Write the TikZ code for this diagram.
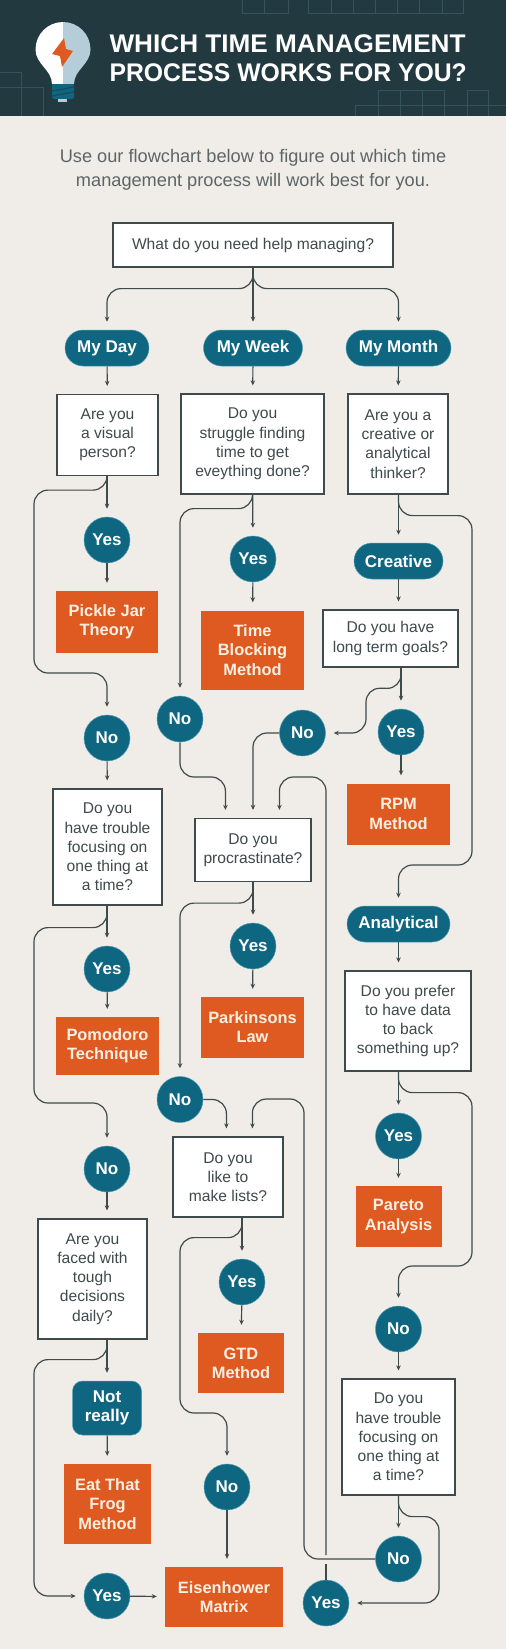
\documentclass[tikz,border=0pt]{standalone}
\usepackage{fontspec}
\setmainfont{Liberation Sans}
\usetikzlibrary{positioning,arrows.meta}

\definecolor{paper}{HTML}{F0EDE8}
\definecolor{banner}{HTML}{22393F}
\definecolor{bannerline}{HTML}{35525A}
\definecolor{ink}{HTML}{3F4A4C}
\definecolor{teal}{HTML}{0F6680}
\definecolor{tealedge}{HTML}{4F9DB3}
\definecolor{rust}{HTML}{DE5A21}
\definecolor{cream}{HTML}{FDF0E2}
\definecolor{bulbshade}{HTML}{B5CDD8}

\begin{document}
\begin{tikzpicture}[
    x=1pt,
    y=-1pt,
    >={Stealth[length=5pt,width=4.5pt]},
    flow/.style={->,draw=ink,line width=1.2pt,rounded corners=14pt,shorten >=8pt},
    plainflow/.style={draw=ink,line width=1.2pt}
]

\tikzstyle{question}=[
    rectangle,
    draw=ink,
    fill=white,
    line width=1.2pt,
    inner sep=0pt,
    align=center,
    text=ink,
    font=\fontsize{15.6}{19.2}\selectfont
]
\tikzstyle{pill}=[
    rectangle,
    draw=tealedge,
    fill=teal,
    line width=.5pt,
    rounded corners=18pt,
    minimum height=36pt,
    inner sep=0pt,
    align=center,
    text=white,
    font=\fontsize{17}{19.2}\selectfont\bfseries
]
\tikzstyle{answer}=[
    circle,
    draw=tealedge,
    fill=teal,
    line width=.5pt,
    minimum size=46pt,
    inner sep=0pt,
    text=white,
    font=\fontsize{17}{19.2}\selectfont\bfseries
]
\tikzstyle{method}=[
    rectangle,
    fill=rust,
    inner sep=0pt,
    align=center,
    text=cream,
    font=\fontsize{16.4}{19.2}\selectfont\bfseries
]

\useasboundingbox (0,0) rectangle (506,1649);
\fill[paper] (0,0) rectangle (506,1649);
\fill[banner] (0,0) rectangle (506,116);

% banner grid
\draw[bannerline,line width=.8pt]
    (242,0) -- (242,13) -- (288,13) -- (288,0) (264,0) -- (264,13)
    (308,0) -- (308,13) -- (463,13) -- (463,0)
    (331,0) -- (331,13) (353,0) -- (353,13) (375,0) -- (375,13)
    (397,0) -- (397,13) (419,0) -- (419,13) (442,0) -- (442,13)
    (355,116) -- (355,105) -- (506,105)
    (378,116) -- (378,90) -- (444,90) -- (444,116)
    (400,90) -- (400,116) (422,90) -- (422,116)
    (467,116) -- (467,90) -- (488,90) -- (488,116)
    (0,72) -- (21,72) -- (21,116)
    (0,87) -- (43,87) -- (43,116);

% bulb
\fill[white] (63,22) .. controls (47.8,22) and (35.5,34.3) .. (35.5,49.5)
    .. controls (35.5,64) and (52,70) .. (52,84) -- (63,84) -- cycle;
\fill[bulbshade] (63,22) .. controls (78.2,22) and (90.5,34.3) .. (90.5,49.5)
    .. controls (90.5,64) and (74,70) .. (74,84) -- (63,84) -- cycle;
\fill[teal,rounded corners=2pt] (52,84) rectangle (74,99);
\draw[banner!60!teal,line width=1.2pt] (52,91) -- (74,87) (52,96) -- (74,92);
\fill[bulbshade] (58,99) rectangle (67,102);
\fill[rust] (64,38) -- (52,54) -- (60,56) -- (62,67) -- (73,51) -- (66,49) -- cycle;

\node[anchor=west,align=left,text=white,font=\fontsize{25.5}{28.5}\selectfont\bfseries] (title) at (106,58)
    {\scalebox{1.026}[1]{WHICH TIME MANAGEMENT}\\\scalebox{.97}[1]{PROCESS WORKS FOR YOU?}};
\node[align=center,text=ink!85,font=\fontsize{18.2}{24}\selectfont] (intro) at (253,170)
    {Use our flowchart below to figure out which time\\management process will work best for you.};

% first row
\node[question,minimum width=280pt,minimum height=44pt] (root) at (253,245) {What do you need help managing?};
\node[pill,minimum width=84pt] (day) at (107,348) {My Day};
\node[pill,minimum width=99pt] (week) at (253,348) {My Week};
\node[pill,minimum width=105pt] (month) at (398.5,348) {My Month};

% left column
\node[question,minimum width=101pt,minimum height=81pt] (visual) at (107.5,435) {Are you\\a visual\\person?};
\node[answer] (yesvisual) at (107,540) {Yes};
\node[method,minimum width=102pt,minimum height=62pt] (pickle) at (107,622) {Pickle Jar\\Theory};
\node[answer] (novisual) at (107,738) {No};
\node[question,minimum width=109pt,minimum height=116pt] (focus) at (107.5,847) {Do you\\have trouble\\focusing on\\one thing at\\a time?};
\node[answer] (yesfocus) at (107,969) {Yes};
\node[method,minimum width=103pt,minimum height=58pt] (pomodoro) at (107.5,1046) {Pomodoro\\Technique};
\node[answer] (nofocus) at (107,1169) {No};
\node[question,minimum width=109pt,minimum height=120pt] (faced) at (92.5,1279) {Are you\\faced with\\tough\\decisions\\daily?};
\node[pill,rounded corners=10pt,minimum width=69pt,minimum height=54pt] (notreally) at (107,1408) {Not\\really};
\node[method,minimum width=87pt,minimum height=80pt] (frog) at (107.5,1504) {Eat That\\Frog\\Method};
\node[answer] (yesfaced) at (107,1596) {Yes};
\node[method,minimum width=118pt,minimum height=60pt] (eisenhower) at (224,1597) {Eisenhower\\Matrix};

% middle column
\node[question,minimum width=143pt,minimum height=100pt] (struggle) at (252.5,444) {Do you\\struggle finding\\time to get\\eveything done?};
\node[answer] (yesstruggle) at (253,559) {Yes};
\node[method,minimum width=103pt,minimum height=79pt] (blocking) at (252.5,650) {Time\\Blocking\\Method};
\node[answer] (nostruggle) at (180,719) {No};
\node[question,minimum width=116pt,minimum height=63pt] (procrast) at (253,850) {Do you\\procrastinate?};
\node[answer] (yesprocrast) at (253,946) {Yes};
\node[method,minimum width=103pt,minimum height=61pt] (parkinson) at (252.5,1027.5) {Parkinsons\\Law};
\node[answer] (noprocrast) at (180,1099.5) {No};
\node[question,minimum width=110pt,minimum height=80pt] (lists) at (228,1177) {Do you\\like to\\make lists?};
\node[answer] (yeslists) at (242,1282) {Yes};
\node[method,minimum width=86pt,minimum height=60pt] (gtd) at (241,1363) {GTD\\Method};
\node[answer] (nolists) at (227,1487) {No};

% right column
\node[question,minimum width=100pt,minimum height=100pt] (thinker) at (398,444) {Are you a\\creative or\\analytical\\thinker?};
\node[pill,minimum width=89pt] (creative) at (398.5,561) {Creative};
\node[question,minimum width=135pt,minimum height=57pt] (goals) at (390.5,638.5) {Do you have\\long term goals?};
\node[answer] (yesgoals) at (401,732) {Yes};
\node[answer] (nogoals) at (302.5,733) {No};
\node[method,minimum width=103pt,minimum height=61pt] (rpm) at (398.5,814) {RPM\\Method};
\node[pill,minimum width=103pt] (analytical) at (398.5,924) {Analytical};
\node[question,minimum width=126pt,minimum height=100pt] (data) at (408,1021) {Do you prefer\\to have data\\to back\\something up?};
\node[answer] (yesdata) at (398.5,1136) {Yes};
\node[method,minimum width=86pt,minimum height=61pt] (pareto) at (398.5,1216.5) {Pareto\\Analysis};
\node[answer] (nodata) at (398.5,1329) {No};
\node[question,minimum width=113pt,minimum height=116pt] (trouble) at (398.5,1437) {Do you\\have trouble\\focusing on\\one thing at\\a time?};
\node[answer] (notrouble) at (398.5,1559) {No};
\node[answer] (yestrouble) at (326,1603) {Yes};

\coordinate (hoplow) at (326,1564);
\coordinate (hopup) at (326,1555);

% connectors from the first box
\draw[flow] (root) -- (week);
\draw[flow] (root.south) -- ++(0,21) -| (day.north);
\draw[flow] (root.south) -- ++(0,21) -| (month.north);
\draw[flow] (day) -- (visual);
\draw[flow] (week) -- (struggle);
\draw[flow] (month) -- (thinker);

% left column
\draw[flow] (visual.south -| yesvisual.north) -- (yesvisual);
\draw[flow] (yesvisual) -- (pickle);
\draw[flow] (visual.south -| yesvisual.north) -- ++(0,14) -| (34,673) -| (novisual.north);
\draw[flow] (novisual) -- (focus);
\draw[flow] (focus.south -| yesfocus.north) -- (yesfocus);
\draw[flow] (yesfocus) -- (pomodoro);
\draw[flow] (focus.south -| yesfocus.north) -- ++(0,22) -| (34,1103) -| (nofocus.north);
\draw[flow] (nofocus.south) -- (nofocus.south |- faced.north);
\draw[flow] (faced.south -| notreally.north) -- (notreally);
\draw[flow] (notreally) -- (frog);
\draw[flow] (faced.south -| notreally.north) -- ++(0,20) -| (34,1596) -- (yesfaced.west);
\draw[flow] (yesfaced) -- (eisenhower);

% middle column
\draw[flow] (struggle) -- (yesstruggle);
\draw[flow] (yesstruggle) -- (blocking);
\draw[flow] (struggle.south) -- ++(0,14) -| (nostruggle.north);
\draw[flow] (nostruggle.south) -- (180,777) -| ([xshift=31pt]procrast.north west);
\draw[flow] (nogoals.west) -| (procrast.north);
\draw[flow] (hopup) -- (326,777) -| ([xshift=85pt]procrast.north west);
\draw[flow] (procrast) -- (yesprocrast);
\draw[flow] (yesprocrast) -- (parkinson);
\draw[flow] (procrast.south) -- ++(0,21) -| (noprocrast.north);
\draw[flow] (noprocrast.east) -| ([xshift=54pt]lists.north west);
\draw[flow] (notrouble.west) -- (304,1559) -- (304,1099) -| ([xshift=80pt]lists.north west);
\draw[flow] (lists.south -| yeslists.north) -- (yeslists);
\draw[flow] (yeslists) -- (gtd);
\draw[flow] (lists.south -| yeslists.north) -- ++(0,20) -| (180,1413) -| (nolists.north);
\draw[flow] (nolists.south) -- (nolists.south |- eisenhower.north);
\draw[plainflow] (yestrouble.north) -- (hoplow);

% right column
\draw[flow] (thinker.south -| creative.north) -- (creative);
\draw[flow] (creative) -- (creative.south |- goals.north);
\draw[flow] (thinker.south -| creative.north) -- ++(0,21) -| (472,865) -| (analytical.north);
\draw[flow] (goals.south -| yesgoals.north) -- (yesgoals);
\draw[flow] (goals.south -| yesgoals.north) -- ++(0,21) -- (366,688) -- (366,733) -- (nogoals.east);
\draw[flow] (yesgoals.south) -- (yesgoals.south |- rpm.north);
\draw[flow] (analytical.south) -- (analytical.south |- data.north);
\draw[flow] (data.south -| yesdata.north) -- (yesdata);
\draw[flow] (yesdata) -- (pareto);
\draw[flow] (data.south -| yesdata.north) -- ++(0,21) -| (472,1266) -| (nodata.north);
\draw[flow] (nodata) -- (trouble);
\draw[flow] (trouble) -- (notrouble);
\draw[flow] (trouble.south) -- ++(0,21) -| (439,1603) -- (yestrouble.east);

\end{tikzpicture}
\end{document}
